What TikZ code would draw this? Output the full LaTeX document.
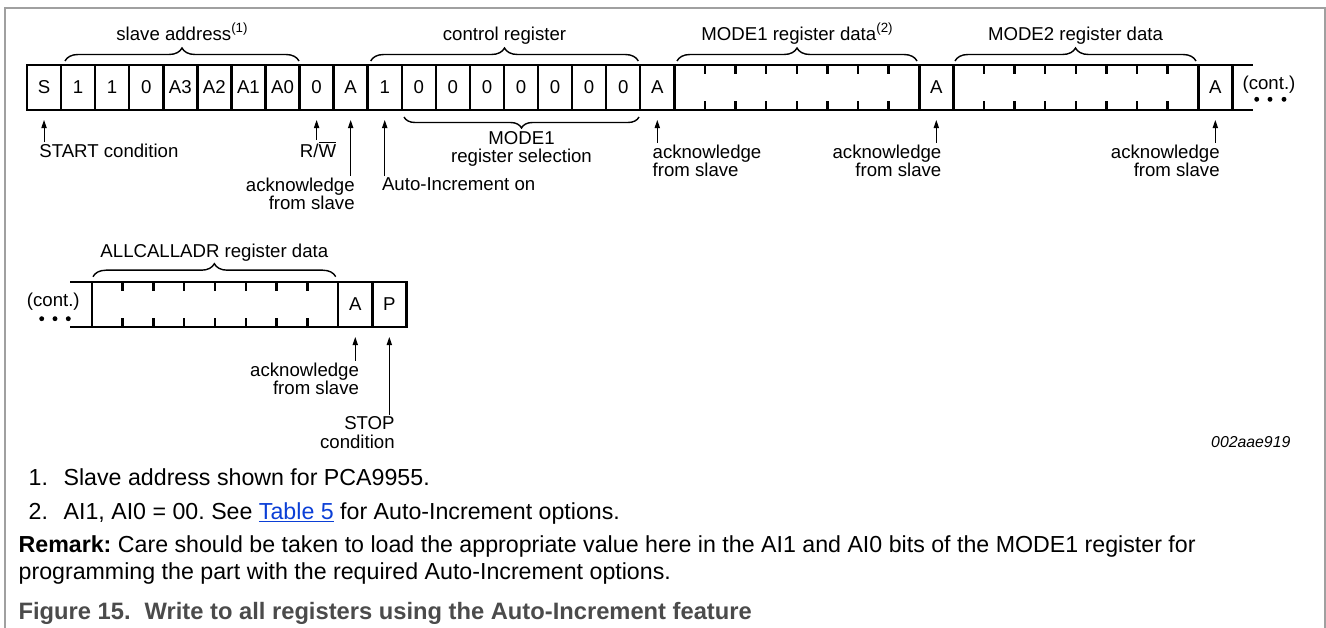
\documentclass[tikz,border=0pt]{standalone}
\usepackage{fontspec}
\setmainfont{Liberation Sans}
\usetikzlibrary{arrows.meta, decorations.pathreplacing, calc}
\definecolor{framegray}{HTML}{A0A0A0}
\definecolor{captiongray}{HTML}{4B4B4B}
\definecolor{linkblue}{HTML}{0B3FD6}
\frenchspacing
\newcommand{\lblfont}{\fontsize{10.6}{10.6}\selectfont}
\newcommand{\supnote}[1]{\raisebox{0.38em}{\fontsize{7.6}{8}\selectfont #1}}
\tikzset{
	bit/.style={draw, line width=1.4pt, minimum width=0.6814cm, minimum height=0.9cm, inner sep=0pt, outer sep=0pt, font=\lblfont},
	datafield/.style={draw, line width=1.4pt, minimum width=4.9cm, minimum height=0.9cm, inner sep=0pt, outer sep=0pt},
	bitline/.style={line width=1.4pt},
	ptr/.style={-{Triangle[length=4.6pt, width=3pt]}, line width=0.6pt, shorten >=0.2cm, shorten <=1pt},
	lbl/.style={font=\lblfont, inner sep=0pt},
	brc/.style={decorate, decoration={brace, amplitude=0.26cm}, line width=0.8pt},
	brcdown/.style={decorate, decoration={brace, mirror, amplitude=0.22cm}, line width=0.8pt},
	note/.style={font=\fontsize{13.2}{15.2}\selectfont, inner sep=0pt, anchor=north west, align=left}
}
\begin{document}
\begin{tikzpicture}[x=0.02cm, y=-0.02cm]
	\useasboundingbox (0, 0) rectangle (1326, 628);
	\draw[framegray, line width=0.8pt] (5, 628) -- (5, 8) -- (1325, 8) -- (1325, 628);
	% first frame: address, control register, MODE1, MODE2
	\foreach \t [count=\i from 0] in {S,1,1,0,A3,A2,A1,A0,0,A,1,0,0,0,0,0,0,0,A}
		\node[bit] (b\i) at ({27+34.07*(\i+0.5)}, 87.5){\t};
	\node[datafield, anchor=west] (d1) at (b18.east){};
	\node[bit, anchor=west] (a2) at (d1.east){A};
	\node[datafield, anchor=west] (d2) at (a2.east){};
	\node[bit, anchor=west] (a3) at (d2.east){A};
	\draw[bitline] (a3.north east) -- ++(21, 0);
	\draw[bitline] (a3.south east) -- ++(21, 0);
	\node[lbl, anchor=base] (cont1) at (1269, 89.5){(cont.)};
	\foreach \x in {1256.7, 1270, 1284}
		\fill (\x, 99.3) circle (1.4pt);
	% second frame: ALLCALLADR and stop
	\node[datafield, minimum width=4.93cm] (d3) at (215, 304.5){};
	\node[bit, anchor=west] (ab) at (d3.east){A};
	\node[bit, anchor=west] (pb) at (ab.east){P};
	\draw[bitline] (d3.north west) -- ++(-21.7, 0);
	\draw[bitline] (d3.south west) -- ++(-21.7, 0);
	\node[lbl, anchor=base] (cont2) at (53.3, 307){(cont.)};
	\foreach \x in {41.7, 55, 68.3}
		\fill (\x, 318.7) circle (1.4pt);
	% bit ticks of the data bytes
	\foreach \d in {d1, d2, d3}
		\foreach \k in {1,...,7}{
			\draw[bitline] ($(\d.north west)!\k/8!(\d.north east)$) -- ++(0, 9);
			\draw[bitline] ($(\d.south west)!\k/8!(\d.south east)$) -- ++(0, -9);
		}
	% braces
	\draw[brc] (65, 61) -- (299, 61) node[lbl, midway, anchor=base, yshift=0.42cm] (tslave){slave address\supnote{(1)}};
	\draw[brc] (370.7, 61) -- (638.3, 61) node[lbl, midway, anchor=base, yshift=0.42cm] (tctrl){control register};
	\draw[brc] (677, 61) -- (917, 61) node[lbl, midway, anchor=base, yshift=0.42cm] (tmode1){MODE1 register data\supnote{(2)}};
	\draw[brc] (955, 61) -- (1196, 61) node[lbl, midway, anchor=base, yshift=0.42cm] (tmode2){MODE2 register data};
	\draw[brcdown] (404, 117) -- (639, 117) node[lbl, midway, anchor=north, align=center, yshift=-0.266cm] (tsel){MODE1\\register selection};
	\draw[brc] (93, 276.7) -- (335.7, 276.7) node[lbl, midway, anchor=base, yshift=0.38cm] (tall){ALLCALLADR register data};
	% labels under the frames
	\node[lbl, anchor=base west] (lstart) at (39, 158){START condition};
	\node[lbl, anchor=base] (lrw) at (318, 158){R/$\overline{\mbox{W}}$};
	\node[lbl, anchor=north east, align=right] (lack1) at (355, 177.5){acknowledge\\from slave};
	\node[lbl, anchor=base west] (lauto) at (381.7, 191){Auto-Increment on};
	\node[lbl, anchor=north west, align=left] (lack2) at (652.3, 144.4){acknowledge\\from slave};
	\node[lbl, anchor=north east, align=right] (lack3) at (941.7, 144.4){acknowledge\\from slave};
	\node[lbl, anchor=north east, align=right] (lack4) at (1220, 144.4){acknowledge\\from slave};
	\node[lbl, anchor=north east, align=right] (lack5) at (359.3, 362.5){acknowledge\\from slave};
	\node[lbl, anchor=north east, align=right] (lstop) at (395, 416.6){STOP\\condition};
	\foreach \l/\b in {lstart/b0, lrw/b8, lack1/b9, lauto/b10, lack2/b18, lack3/a2, lack4/a3, lack5/ab, lstop/pb}
		\draw[ptr] (\l.north -| \b) -- (\b.south);
	\node[lbl, font=\fontsize{9}{10}\selectfont\itshape, anchor=base east] (code) at (1290.7, 447.7){002aae919};
	% notes and caption
	\node[note] (n1) at (28.3, 468){\makebox[0.7cm][l]{1.}Slave address shown for PCA9955.};
	\node[note] (n2) at (28.3, 502){\makebox[0.7cm][l]{2.}AI1, AI0 = 00. See {\color{linkblue}\underline{Table 5}} for Auto-Increment options.};
	\node[note] (rmk) at (18.3, 535.7){\textbf{Remark:} Care should be taken to load the appropriate value here in the AI1 and AI0 bits of the MODE1 register for\\programming the part with the required Auto-Increment options.};
	\node[note, font=\fontsize{13.5}{15}\selectfont\bfseries, text=captiongray] (cap) at (18.3, 602.3){Figure 15.\hspace{0.28cm}Write to all registers using the Auto-Increment feature};
\end{tikzpicture}
\end{document}
